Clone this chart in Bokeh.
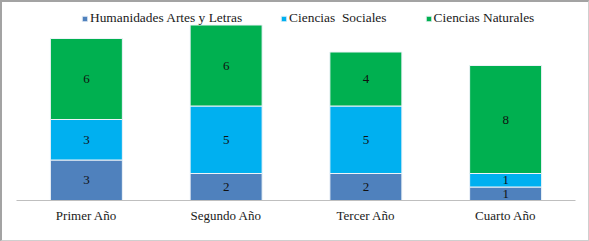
from bokeh.plotting import figure
from bokeh.layouts import column
from bokeh.models import ColumnDataSource, Legend, LegendItem, FactorRange
from bokeh.embed import file_html
from bokeh.resources import INLINE
import numpy as np

categories = ["Primer Año", "Segundo Año", "Tercer Año", "Cuarto Año"]
series_names = ["Humanidades Artes y Letras", "Ciencias  Sociales", "Ciencias Naturales"]
humanidades = [3, 2, 2, 1]
sociales = [3, 5, 5, 1]
naturales = [6, 6, 4, 8]
colors = ["#4f81bd", "#00b0f0", "#00b050"]

FONT = "Liberation Serif"

src = ColumnDataSource(dict(cat=categories, hum=humanidades, soc=sociales, nat=naturales))

W, H = 586, 238
p = figure(x_range=FactorRange(*categories), y_range=(0, 14.667), width=W, height=H,
           output_backend="svg", toolbar_location=None,
           min_border_left=14, min_border_right=13, min_border_top=0, min_border_bottom=40)
p.outline_line_color = None
p.xgrid.visible = False
p.ygrid.visible = False
p.yaxis.visible = False
p.x_range.range_padding = 0
p.xaxis.axis_line_color = "#bfbfbf"
p.xaxis.major_tick_line_color = None
p.xaxis.minor_tick_line_color = None
p.xaxis.major_tick_out = 0
p.xaxis.major_tick_in = 0
p.xaxis.major_label_text_font = FONT
p.xaxis.major_label_text_font_size = "13px"
p.xaxis.major_label_text_color = "#1a1a1a"
p.xaxis.major_label_standoff = 7

renderers = p.vbar_stack(["hum", "soc", "nat"], x="cat", width=0.515, source=src,
                         color=colors, line_color="#eef3f8", line_width=1)

hum = np.array(humanidades, dtype=float)
soc = np.array(sociales, dtype=float)
nat = np.array(naturales, dtype=float)
lab_src = ColumnDataSource(dict(
    cat=categories * 3,
    y=list(hum / 2) + list(hum + soc / 2) + list(hum + soc + nat / 2),
    t=[str(v) for v in humanidades + sociales + naturales],
))
p.text(x="cat", y="y", text="t", source=lab_src, text_align="center", text_baseline="middle",
       text_font={"value": FONT}, text_font_size="13px", text_color="#111111")

legend = Legend(items=[LegendItem(label=series_names[i], renderers=[renderers[i]]) for i in range(3)],
                orientation="horizontal", location=(65, 174),
                glyph_width=7, glyph_height=7, label_standoff=2, spacing=38,
                padding=0, margin=0, border_line_color=None, background_fill_alpha=0,
                label_text_font=FONT, label_text_font_size="13.4px", label_text_color="#1a1a1a",
                label_height=14)
p.add_layout(legend, "center")

layout = column(p, styles={
    "border-top": "2px solid #a3a3a3", "border-left": "2px solid #a3a3a3",
    "border-right": "1px solid #cfcfcf", "border-bottom": "1px solid #cfcfcf",
})

open("out.html", "w").write(file_html(layout, INLINE))
